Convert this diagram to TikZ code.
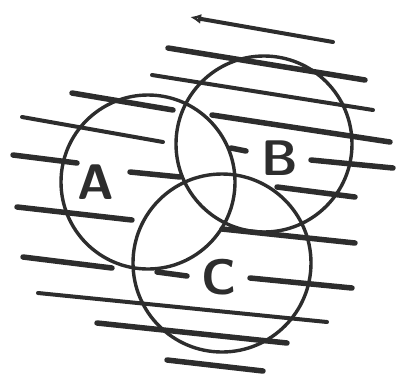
\documentclass[tikz,border=0pt]{standalone}
\usepackage{tikz}
\usetikzlibrary{arrows.meta}
\definecolor{inkgray}{RGB}{45,45,45}

\tikzset{
  setcircle/.style={draw=inkgray,line width=3.4pt,circle,inner sep=0pt},
  setlabel/.style={text=inkgray,font=\sffamily\bfseries\fontsize{50}{50}\selectfont},
  hatch/.style={draw=inkgray,line width=5.5pt,line cap=round},
  thinhatch/.style={draw=inkgray,line width=4pt,line cap=round}
}

\begin{document}
\begin{tikzpicture}[x=1pt,y=-1pt,>={Latex[open,length=11pt,width=10pt]}]
    \useasboundingbox (0,0) rectangle (396,373);
    % the three sets
    \node[setcircle,minimum size=174pt] (setA) at (148,182) {};
    \node[setcircle,minimum size=176pt] (setB) at (264,144) {};
    \node[setcircle,minimum size=178pt] (setC) at (222,263) {};
    \node[setlabel] (labA) at (96,182) {A};
    \node[setlabel] (labB) at (280,158) {B};
    \node[setlabel] (labC) at (219,277) {C};
    % direction of the hatching
    \coordinate (arrtail) at (333,42);
    \coordinate (arrhead) at (190,17);
    \draw[thinhatch,->] (arrtail) -- (arrhead);
    % hatching lines
    \draw[hatch] (168,48) -- (365,80);
    \draw[thinhatch] (152,75) -- (373,110);
    \draw[hatch] (72,93) -- (173,110);
    \draw[thinhatch] (22,117) -- (163,142);
    \draw[hatch] (212,115) -- (390,142);
    \draw[hatch] (13,155) -- (77,163);
    \draw[hatch] (130,172) -- (180,177);
    \draw[hatch] (231,148) -- (246,151);
    \draw[hatch] (311,160) -- (393,168);
    \draw[hatch] (277,187) -- (355,197);
    \draw[hatch] (17,207) -- (132,220);
    \draw[hatch] (222,229) -- (355,243);
    \draw[hatch] (23,257) -- (112,268);
    \draw[hatch] (157,272) -- (187,276);
    \draw[hatch] (250,278) -- (352,288);
    \draw[thinhatch] (38,293) -- (327,322);
    \draw[hatch] (97,323) -- (287,343);
    \draw[hatch] (167,360) -- (263,371);
  \end{tikzpicture}
\end{document}
